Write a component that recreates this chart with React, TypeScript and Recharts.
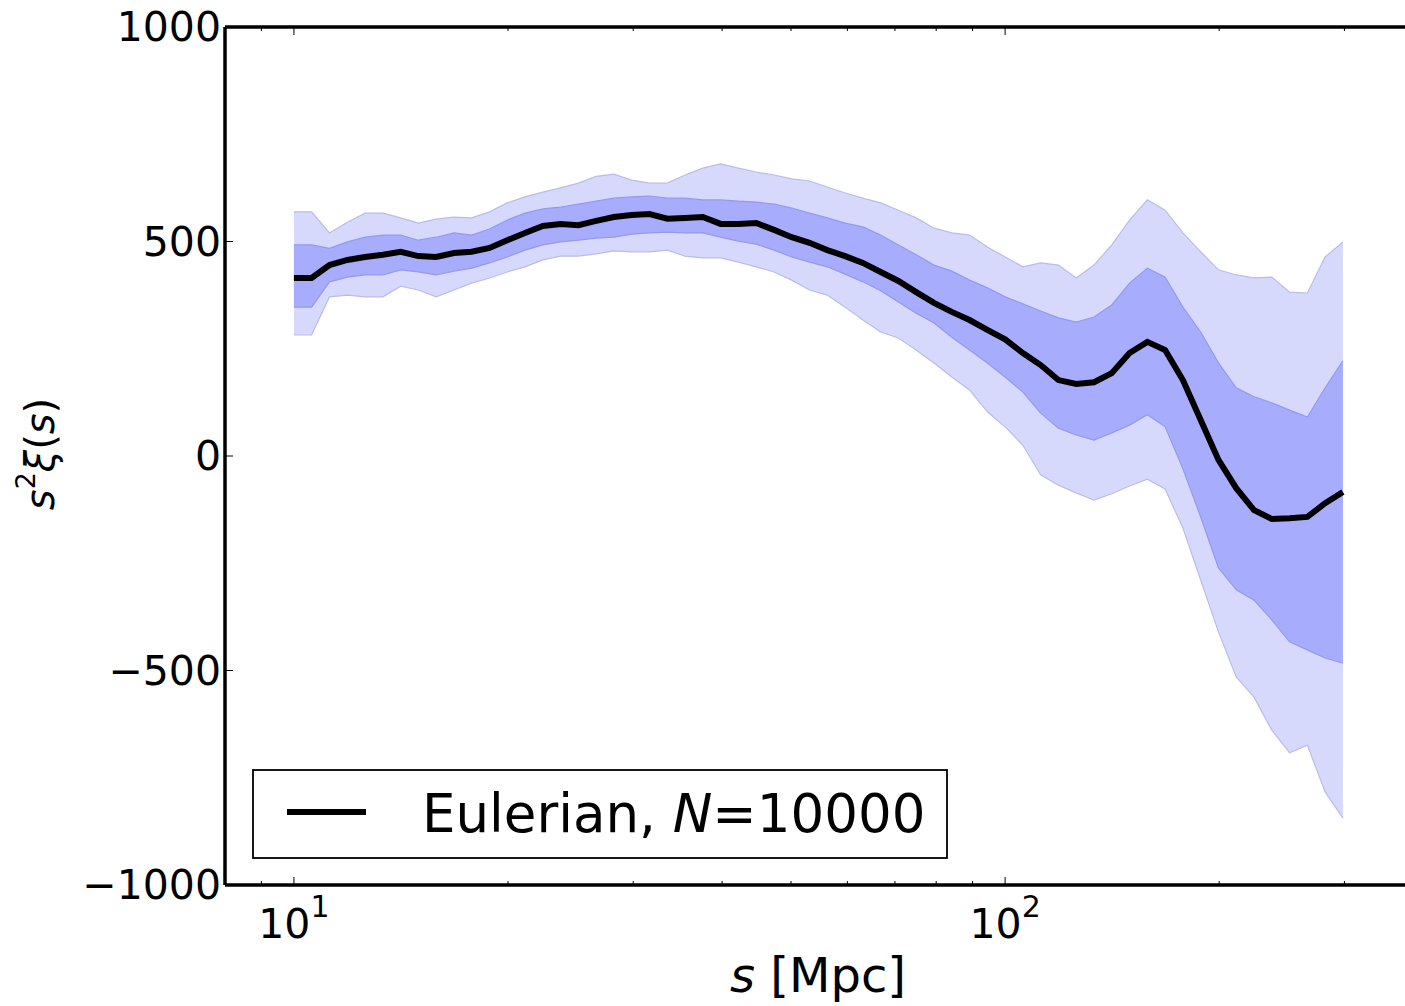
import { Area, ComposedChart, Legend, Line, XAxis, YAxis } from "recharts";

// s in Mpc, log-spaced bins
const sValues = [
    10.0, 10.59, 11.22, 11.89, 12.59, 13.34, 14.13, 14.96, 15.85, 16.79,
    17.78, 18.84, 19.95, 21.13, 22.39, 23.71, 25.12, 26.61, 28.18, 29.85,
    31.62, 33.5, 35.48, 37.58, 39.81, 42.17, 44.67, 47.32, 50.12, 53.09,
    56.23, 59.57, 63.1, 66.83, 70.79, 74.99, 79.43, 84.14, 89.13, 94.41,
    100.0, 105.93, 112.2, 118.85, 125.89, 133.35, 141.25, 149.62, 158.49, 167.88,
    177.83, 188.36, 199.53, 211.35, 223.87, 237.14, 251.19, 266.07, 281.84, 298.54,
];

const meanLine = [
    415, 415, 445, 457, 464, 469, 476, 466, 464, 473,
    476, 485, 503, 520, 536, 541, 538, 548, 557, 562,
    564, 553, 555, 557, 541, 541, 543, 527, 510, 497,
    480, 466, 450, 429, 408, 382, 357, 336, 317, 294,
    272, 240, 212, 177, 168, 172, 193, 240, 266, 247,
    177, 84, -9, -75, -126, -147, -145, -142, -110, -84,
];

const innerHi = [
    492, 492, 484, 499, 510, 515, 515, 503, 510, 520,
    515, 529, 550, 566, 576, 580, 587, 594, 601, 604,
    606, 601, 601, 597, 597, 594, 592, 587, 578, 566,
    555, 543, 534, 515, 492, 469, 445, 431, 410, 392,
    371, 355, 338, 322, 312, 324, 352, 403, 438, 417,
    347, 289, 217, 159, 138, 124, 107, 91, 159, 222,
];

const innerLo = [
    347, 347, 406, 417, 422, 422, 434, 429, 422, 431,
    438, 450, 464, 480, 492, 499, 503, 508, 510, 517,
    520, 522, 520, 520, 510, 501, 494, 480, 464, 452,
    441, 424, 406, 385, 359, 333, 310, 277, 247, 217,
    184, 149, 100, 65, 49, 37, 54, 72, 96, 68,
    -30, -142, -261, -312, -336, -382, -433, -452, -471, -483,
];

const outerHi = [
    569, 569, 520, 545, 566, 566, 555, 543, 552, 557,
    555, 569, 590, 604, 615, 625, 636, 652, 657, 643,
    636, 636, 655, 671, 681, 671, 662, 655, 646, 641,
    627, 613, 601, 590, 573, 555, 531, 520, 515, 487,
    464, 441, 450, 445, 415, 445, 492, 550, 597, 573,
    520, 476, 434, 422, 415, 417, 382, 380, 464, 499,
];

const outerLo = [
    282, 282, 371, 375, 371, 371, 396, 387, 371, 387,
    403, 415, 429, 441, 457, 466, 466, 471, 478, 476,
    476, 480, 466, 462, 462, 452, 441, 429, 410, 387,
    375, 347, 317, 289, 275, 247, 217, 184, 154, 103,
    68, 25, -44, -68, -86, -103, -88, -70, -54, -77,
    -168, -289, -410, -515, -562, -639, -692, -674, -783, -844,
];

const xTicks = [8, 9, 10, 20, 30, 40, 50, 60, 70, 80, 90, 100, 200, 300];
const xMajor: Record<number, string> = { 10: "1", 100: "2" };
const yTicks = [-1000, -500, 0, 500, 1000];
const yTickLabels: Record<number, string> = {
    [-1000]: "\u22121000",
    [-500]: "\u2212500",
    0: "0",
    500: "500",
    1000: "1000",
};

const rows = sValues.map((s, i) => ({
    s,
    outer: [outerLo[i], outerHi[i]],
    inner: [innerLo[i], innerHi[i]],
    mean: meanLine[i],
}));

const FONT = "'DejaVu Sans', sans-serif";

const BottomTick = (props: any) => {
    const { x, y, payload } = props;
    const exp = xMajor[payload.value];
    return (
        <g>
            <line x1={x} x2={x} y1={y} y2={y - (exp ? 8 : 4)} stroke="#000" strokeWidth={1} />
            {exp && (
                <text x={x} y={y + 53} textAnchor="middle" fontSize={41} fill="#000">
                    10<tspan dy={-21} fontSize={30}>{exp}</tspan>
                </text>
            )}
        </g>
    );
};

const TopTick = (props: any) => {
    const { x, y, payload } = props;
    const major = !!xMajor[payload.value];
    return <line x1={x} x2={x} y1={y} y2={y + (major ? 8 : 4)} stroke="#000" strokeWidth={1} />;
};

const LeftTick = (props: any) => {
    const { x, y, payload } = props;
    return (
        <g>
            <line x1={x} x2={x + 8} y1={y} y2={y} stroke="#000" strokeWidth={1} />
            <text x={x - 4} y={y} textAnchor="end" dominantBaseline="central" fontSize={41} fill="#000">
                {yTickLabels[payload.value]}
            </text>
        </g>
    );
};

const XLabel = (props: any) => {
    const { x, y, width } = props.viewBox;
    return (
        <text x={x + width / 2 + 3} y={y + 107} textAnchor="middle" fontSize={48} fill="#000">
            <tspan fontStyle="italic">s</tspan> [Mpc]
        </text>
    );
};

const YLabel = (props: any) => {
    const { y, height } = props.viewBox;
    const cx = 40;
    const cy = y + height / 2 - 2;
    return (
        <text x={cx} y={cy} transform={`rotate(-90, ${cx}, ${cy})`} textAnchor="middle"
            dominantBaseline="central" fontSize={40} fill="#000">
            <tspan fontStyle="italic">s</tspan>
            <tspan dy={-15} fontSize={27}>2</tspan>
            <tspan dy={15} fontStyle="italic">ξ</tspan>
            <tspan>(</tspan>
            <tspan fontStyle="italic">s</tspan>
            <tspan>)</tspan>
        </text>
    );
};

const LegendBox = () => (
    <svg width={696} height={90} style={{ display: "block" }}>
        <rect x={1} y={1} width={694} height={88} fill="#fff" stroke="#000" strokeWidth={1.8} />
        <line x1={35} x2={114} y1={43} y2={43} stroke="#000" strokeWidth={6} />
        <text x={170} y={63} fontSize={53} fill="#000" style={{ fontFamily: FONT }}>
            Eulerian, <tspan fontStyle="italic">N</tspan>=10000
        </text>
    </svg>
);

export default function App() {
    return (
        <div style={{ position: "absolute", left: 0, top: 0, fontFamily: FONT }}>
            <ComposedChart width={1405} height={1006} data={rows}
                margin={{ top: 26, right: 0, bottom: 0, left: 0 }}>
                <XAxis dataKey="s" type="number" scale="log" domain={[8, 365]} allowDataOverflow
                    ticks={xTicks} interval={0} tickSize={0} tickMargin={0} height={121}
                    axisLine={{ stroke: "#000", strokeWidth: 3.5 }} tickLine={false}
                    tick={<BottomTick />} label={<XLabel />} />
                <XAxis xAxisId="top" orientation="top" dataKey="s" type="number" scale="log"
                    domain={[8, 365]} allowDataOverflow ticks={xTicks} interval={0} tickSize={0}
                    tickMargin={0} height={1} axisLine={{ stroke: "#000", strokeWidth: 3.5 }}
                    tickLine={false} tick={<TopTick />} />
                <YAxis type="number" domain={[-1000, 1000]} ticks={yTicks} interval={0}
                    allowDataOverflow width={225} tickSize={0} tickMargin={0}
                    axisLine={{ stroke: "#000", strokeWidth: 3.5 }} tickLine={false}
                    tick={<LeftTick />} label={<YLabel />} />
                <Area type="linear" dataKey="outer" fill="#d7d9fc" fillOpacity={1}
                    stroke="#b9bce8" strokeWidth={1.2} isAnimationActive={false} />
                <Area type="linear" dataKey="inner" fill="#a8acfd" fillOpacity={1}
                    stroke="#9599ee" strokeWidth={1.2} isAnimationActive={false} />
                <Line type="linear" dataKey="mean" stroke="#000" strokeWidth={6} dot={false}
                    isAnimationActive={false} />
                <Legend layout="horizontal" verticalAlign="middle" align="center"
                    wrapperStyle={{ position: "absolute", left: 252, top: 769, width: 696, height: 90 }}
                    content={<LegendBox />} />
            </ComposedChart>
        </div>
    );
}
